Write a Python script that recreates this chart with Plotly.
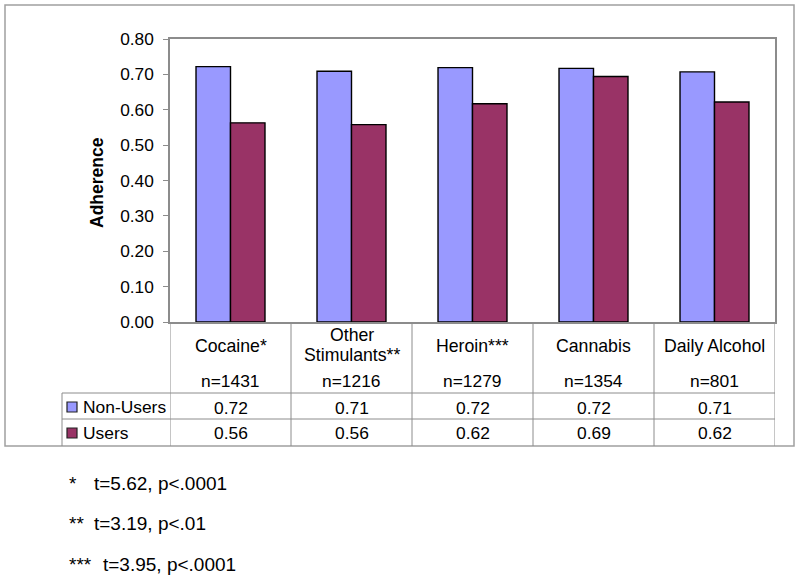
import plotly.graph_objects as go

categories = ["Cocaine*", "Other\nStimulants**", "Heroin***", "Cannabis", "Daily Alcohol"]
sample_sizes = ["n=1431", "n=1216", "n=1279", "n=1354", "n=801"]
non_users = [0.722, 0.709, 0.719, 0.717, 0.707]
users = [0.563, 0.558, 0.617, 0.694, 0.622]
y_ticks = [0.0, 0.1, 0.2, 0.3, 0.4, 0.5, 0.6, 0.7, 0.8]
footnote_marks = ["*", "**", "***"]
footnote_texts = ["t=5.62, p<.0001", "t=3.19, p<.01", "t=3.95, p<.0001"]

W, H = 800, 587
FONT = "Liberation Sans, Arial, sans-serif"
FS = 17.4
C_NON = "#9999FF"
C_USR = "#993366"
GRID = "#8c8c8c"

def px(x):
    return x / W

def py(y):
    return 1 - y / H

PLOT_L, PLOT_R, PLOT_T, PLOT_B = 170, 775, 39, 322
xs = list(range(len(categories)))

fig = go.Figure()
fig.add_trace(go.Bar(x=xs, y=non_users, name="Non-Users", marker=dict(color=C_NON, line=dict(color="black", width=1.4))))
fig.add_trace(go.Bar(x=xs, y=users, name="Users", marker=dict(color=C_USR, line=dict(color="black", width=1.4))))

shapes = []
ann = []

def text(x, y, t, xref="paper", anchor="center", size=FS, bold=False):
    ann.append(dict(xref=xref, yref="paper", x=x, y=y, text=f"<b>{t}</b>" if bold else t, showarrow=False,
                    xanchor=anchor, yanchor="middle", font=dict(size=size, family=FONT, color="black")))

# outer border
shapes.append(dict(type="rect", xref="paper", yref="paper", x0=px(5), x1=px(794), y0=py(5), y1=py(446),
                   line=dict(color="#a0a0a0", width=1.5)))

# table vertical lines at category boundaries
for i in range(len(categories) + 1):
    shapes.append(dict(type="line", xref="x", yref="paper", x0=i - 0.5, x1=i - 0.5, y0=py(PLOT_B), y1=py(446),
                       line=dict(color=GRID, width=1)))
# legend column left edge
shapes.append(dict(type="line", xref="paper", yref="paper", x0=px(62), x1=px(62), y0=py(393), y1=py(446),
                   line=dict(color=GRID, width=1)))
# table horizontal lines
for yy in (393, 419):
    shapes.append(dict(type="line", xref="paper", yref="paper", x0=px(62), x1=px(PLOT_R), y0=py(yy), y1=py(yy),
                       line=dict(color=GRID, width=1)))

# legend swatches
for yy, col, name in ((407, C_NON, "Non-Users"), (433, C_USR, "Users")):
    shapes.append(dict(type="rect", xref="paper", yref="paper", x0=px(67), x1=px(77), y0=py(yy + 5), y1=py(yy - 5),
                       fillcolor=col, line=dict(color="#222222", width=1.2)))
    text(px(80.5), py(yy), name, anchor="left")

for i in xs:
    lines = categories[i].split("\n")
    if len(lines) == 1:
        text(i, py(345.5), lines[0], xref="x", size=17.7)
    else:
        text(i, py(335), lines[0], xref="x", size=17.7)
        text(i, py(354.5), lines[1], xref="x", size=17.7)
    text(i, py(381), sample_sizes[i], xref="x")
    text(i, py(407.5), f"{non_users[i]:.2f}", xref="x")
    text(i, py(433), f"{users[i]:.2f}", xref="x")

mark_x = [67, 67, 67]
text_x = [92, 92, 101]
for k in range(len(footnote_texts)):
    yy = 483 + 40.5 * k
    text(px(mark_x[k]), py(yy), footnote_marks[k], anchor="left", size=19)
    text(px(text_x[k]), py(yy), footnote_texts[k], anchor="left", size=19)

# y axis title
ann.append(dict(xref="paper", yref="paper", x=px(97), y=py(183), text="<b>Adherence</b>",
                textangle=-90, showarrow=False, xanchor="center", yanchor="middle",
                font=dict(size=17.5, family=FONT, color="black")))

fig.update_layout(
    width=W, height=H,
    margin=dict(l=0, r=0, t=0, b=0),
    paper_bgcolor="white", plot_bgcolor="white",
    barmode="group", bargap=0.43, bargroupgap=0,
    showlegend=False,
    shapes=shapes, annotations=ann,
    font=dict(family=FONT, size=FS, color="black"),
    xaxis=dict(domain=[px(PLOT_L), px(PLOT_R)], range=[-0.5, len(categories) - 0.5],
               showticklabels=False, ticks="", showgrid=False, zeroline=False,
               showline=True, linecolor=GRID, linewidth=1.5, mirror=True),
    yaxis=dict(domain=[py(PLOT_B), py(PLOT_T)], range=[0, 0.8], tickvals=y_ticks,
               tickformat=".2f", ticks="outside", ticklen=5, tickcolor=GRID, tickwidth=1,
               ticklabelstandoff=6,
               showgrid=False, zeroline=False, showline=True, linecolor=GRID, linewidth=1.5, mirror=True,
               tickfont=dict(size=17.3, family=FONT, color="black"), automargin=False),
)

fig.write_html("out.html", config={"displayModeBar": False},
               post_script="document.body.style.margin='0px';")
